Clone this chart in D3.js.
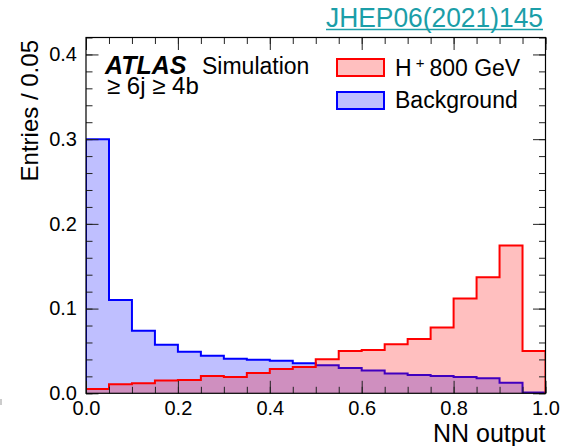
<!DOCTYPE html>
<html>
<head>
<meta charset="utf-8">
<script src="https://cdn.jsdelivr.net/npm/d3@7"></script>
<style>
  html, body { margin: 0; padding: 0; background: #fff; }
  svg { display: block; font-family: "Liberation Sans", Arial, Helvetica, sans-serif; }
</style>
</head>
<body>
<svg id="chart" width="563" height="446"></svg>
<script>
// ---- data ----
const binLow = [0.00, 0.05, 0.10, 0.15, 0.20, 0.25, 0.30, 0.35, 0.40, 0.45,
                0.50, 0.55, 0.60, 0.65, 0.70, 0.75, 0.80, 0.85, 0.90, 0.95];
const binWidth = 0.05;
const background = [0.300, 0.110, 0.0738, 0.0572, 0.049, 0.0442, 0.0407, 0.0395, 0.0385, 0.0355,
                    0.0332, 0.0300, 0.0268, 0.0233, 0.0217, 0.0205, 0.0193, 0.0178, 0.0126, 0.001];
const signal = [0.005, 0.0107, 0.0118, 0.0150, 0.0158, 0.0205, 0.0193, 0.0240, 0.0286, 0.0310,
                0.0403, 0.0500, 0.0510, 0.0580, 0.0640, 0.0778, 0.1120, 0.1370, 0.1745, 0.0500];
const xMajorTicks = [0.0, 0.2, 0.4, 0.6, 0.8, 1.0];
const yMajorTicks = [0.0, 0.1, 0.2, 0.3, 0.4];
const seriesNames = ["Background", "H"];
const xTitle = "NN output";
const yTitle = "Entries / 0.05";
const refText = "JHEP06(2021)145";

// ---- layout ----
const W = 563, H = 446;
const m = { left: 86, right: 17.5, top: 37.5, bottom: 52.7 };
const pw = W - m.left - m.right, ph = H - m.top - m.bottom;

const svg = d3.select("#chart");
const x = d3.scaleLinear().domain([0, 1]).range([m.left, m.left + pw]);
const y = d3.scaleLinear().domain([0, 0.42]).range([m.top + ph, m.top]);

svg.append("defs").append("clipPath").attr("id", "clip")
  .append("rect").attr("x", m.left).attr("y", m.top).attr("width", pw).attr("height", ph);

function pts(vals) {
  const p = binLow.map((b, i) => [b, vals[i]]);
  p.push([binLow[binLow.length - 1] + binWidth, vals[vals.length - 1]]);
  return p;
}
const area = d3.area().curve(d3.curveStepAfter)
  .x(d => x(d[0])).y0(y(0)).y1(d => y(d[1]));
const line = d3.line().curve(d3.curveStepAfter)
  .x(d => x(d[0])).y(d => y(d[1]));

const g = svg.append("g").attr("clip-path", "url(#clip)");
const series = [
  { vals: background, color: "#0000ff" },
  { vals: signal, color: "#ff0000" }
];
series.forEach(s => {
  const p = pts(s.vals);
  g.append("path").attr("d", area(p)).attr("fill", s.color).attr("fill-opacity", 0.25);
  const lp = [[0, 0]].concat(p).concat([[1, 0]]);
  g.append("path").attr("d", line(lp)).attr("fill", "none")
    .attr("stroke", s.color).attr("stroke-width", 2);
});

// ---- axes ----
const fmt = d3.format(".1f");
const xMinor = d3.range(0, 1.0001, 0.05);
const yMinor = d3.range(0, 0.4201, 0.02);
const majL = 12.5, minL = 6.5;

function styleAxis(sel) {
  sel.select(".domain").remove();
  sel.selectAll(".tick line").attr("stroke", "#222").attr("stroke-width", 1);
  sel.selectAll("text").attr("fill", "#000").style("font-size", "20px")
     .style("font-family", "'Liberation Sans', Arial, sans-serif");
}
// bottom
svg.append("g").attr("transform", `translate(0,${m.top + ph})`)
  .call(d3.axisBottom(x).tickValues(xMinor).tickSizeInner(-minL).tickSizeOuter(0).tickFormat(""))
  .call(styleAxis);
svg.append("g").attr("transform", `translate(0,${m.top + ph})`)
  .call(d3.axisBottom(x).tickValues(xMajorTicks).tickSizeInner(-majL).tickSizeOuter(0).tickPadding(7.5).tickFormat(fmt))
  .call(styleAxis);
// top
svg.append("g").attr("transform", `translate(0,${m.top})`)
  .call(d3.axisTop(x).tickValues(xMinor).tickSizeInner(-minL).tickSizeOuter(0).tickFormat(""))
  .call(styleAxis);
svg.append("g").attr("transform", `translate(0,${m.top})`)
  .call(d3.axisTop(x).tickValues(xMajorTicks).tickSizeInner(-majL).tickSizeOuter(0).tickFormat(""))
  .call(styleAxis);
// left
svg.append("g").attr("transform", `translate(${m.left},0)`)
  .call(d3.axisLeft(y).tickValues(yMinor).tickSizeInner(-minL).tickSizeOuter(0).tickFormat(""))
  .call(styleAxis);
svg.append("g").attr("transform", `translate(${m.left},0)`)
  .call(d3.axisLeft(y).tickValues(yMajorTicks).tickSizeInner(-majL).tickSizeOuter(0).tickPadding(9).tickFormat(fmt))
  .call(styleAxis);
// right
svg.append("g").attr("transform", `translate(${m.left + pw},0)`)
  .call(d3.axisRight(y).tickValues(yMinor).tickSizeInner(-minL).tickSizeOuter(0).tickFormat(""))
  .call(styleAxis);
svg.append("g").attr("transform", `translate(${m.left + pw},0)`)
  .call(d3.axisRight(y).tickValues(yMajorTicks).tickSizeInner(-majL).tickSizeOuter(0).tickFormat(""))
  .call(styleAxis);

// frame
svg.append("rect").attr("x", m.left).attr("y", m.top).attr("width", pw).attr("height", ph)
  .attr("fill", "none").attr("stroke", "#000").attr("stroke-width", 1.2);

// ---- titles ----
svg.append("text").attr("x", m.left + pw).attr("y", 442).attr("text-anchor", "end")
  .style("font-size", "25px").text(xTitle);
svg.append("text").attr("transform", `translate(38,40) rotate(-90)`).attr("text-anchor", "end")
  .style("font-size", "24px").text(yTitle);

// reference link
svg.append("text").attr("x", 326).attr("y", 26.7)
  .attr("textLength", 217).attr("lengthAdjust", "spacingAndGlyphs")
  .attr("fill", "#1b9ea8").style("font-size", "28px").text(refText);
svg.append("line").attr("x1", 326).attr("x2", 543).attr("y1", 29.5).attr("y2", 29.5)
  .attr("stroke", "#1b9ea8").attr("stroke-width", 1.5);

// ATLAS label
svg.append("text").attr("x", 105).attr("y", 74.3)
  .style("font-weight", "bold").style("font-style", "italic")
  .style("font-size", "25px").text("ATLAS");
svg.append("text").attr("x", 202).attr("y", 74.3)
  .style("font-size", "23px").text("Simulation");
svg.append("text").attr("x", 107).attr("y", 93.5).style("font-size", "24px").text("\u2265 6j \u2265 4b");

// legend
const legend = [
  { color: "#ff0000", y: 59 },
  { color: "#0000ff", y: 92 }
];
legend.forEach(l => {
  svg.append("rect").attr("x", 337).attr("y", l.y).attr("width", 47).attr("height", 17)
    .attr("fill", l.color).attr("fill-opacity", 0.25).attr("stroke", l.color).attr("stroke-width", 2);
});
const t1 = svg.append("text").attr("x", 395).attr("y", 75.5).style("font-size", "23px");
t1.append("tspan").text("H");
t1.append("tspan").attr("dx", 4).attr("dy", -8).style("font-size", "15px").text("+");
t1.append("tspan").attr("dx", 5).attr("dy", 8).text("800 GeV");
svg.append("text").attr("x", 395).attr("y", 107.5).style("font-size", "23px").text(seriesNames[0]);

// small edge artifact
svg.append("rect").attr("x", 0).attr("y", 399).attr("width", 2).attr("height", 6).attr("fill", "#ccc");
</script>
</body>
</html>
